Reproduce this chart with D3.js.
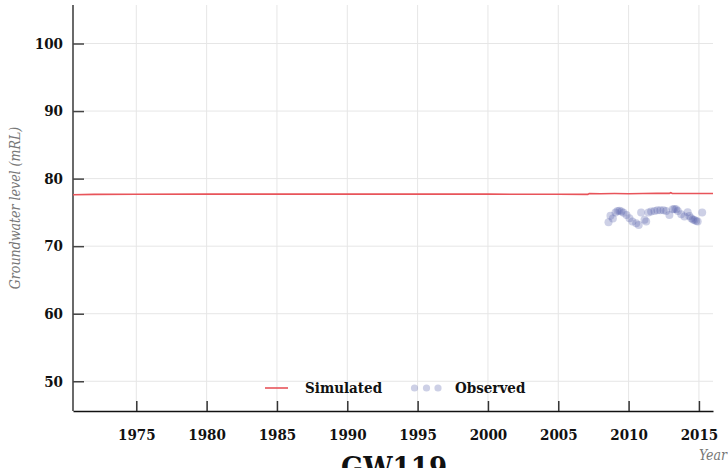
<!DOCTYPE html>
<html><head><meta charset="utf-8">
<script src="https://cdn.jsdelivr.net/npm/d3@7"></script>
<style>
html,body{margin:0;padding:0;background:#fff;}
svg{display:block;}
text{font-family:"DejaVu Serif",serif;}
</style></head>
<body><svg id="c" width="728" height="468"></svg>
<script>
const title = "GW119";
const yLabel = "Groundwater level (mRL)";
const xLabel = "Year";
const xTicks = [1975,1980,1985,1990,1995,2000,2005,2010,2015];
const yTicks = [50,60,70,80,90,100];
const xDomain = [1970.5, 2016.0];
const yDomain = [45.6, 105.7];

const simYears  = [1970.5,1972,1975,1980,1985,1990,1995,2000,2005,2007.1,2007.2,2008,2009,2010,2011,2012,2012.9,2013.0,2013.1,2014,2015,2016];
const simValues = [77.62,77.66,77.68,77.7,77.7,77.7,77.7,77.7,77.68,77.67,77.78,77.77,77.79,77.77,77.79,77.81,77.81,77.93,77.8,77.79,77.79,77.79];

const obsYears  = [2008.57,2008.71,2008.88,2009.07,2009.21,2009.35,2009.49,2009.64,2009.85,2010.06,2010.27,2010.54,2010.72,2010.89,2011.13,2011.25,2011.41,2011.60,2011.84,2012.05,2012.26,2012.48,2012.67,2012.90,2013.14,2013.26,2013.38,2013.50,2013.74,2013.97,2014.20,2014.32,2014.45,2014.57,2014.68,2014.80,2014.91,2015.23];
const obsValues = [73.55,74.5,74.1,75.0,75.2,75.25,75.15,74.95,74.6,74.14,73.64,73.4,73.15,75.0,73.9,73.64,75.0,75.15,75.2,75.3,75.33,75.3,75.2,74.6,75.47,75.5,75.45,75.2,74.73,74.38,75.03,74.48,74.14,73.96,73.89,73.74,73.64,75.0];

const legendLabels = ["Simulated","Observed"];

const svg = d3.select("#c");
const L = 73, R = 713, T = 5, B = 411;
const x = d3.scaleLinear().domain(xDomain).range([L, R]);
const y = d3.scaleLinear().domain(yDomain).range([B, T]);

// grid
svg.append("g").selectAll("line").data(xTicks).join("line")
  .attr("x1", d => x(d)).attr("x2", d => x(d)).attr("y1", T).attr("y2", B)
  .attr("stroke", "#e6e6e6").attr("stroke-width", 1);
svg.append("g").selectAll("line").data(yTicks).join("line")
  .attr("x1", L).attr("x2", R).attr("y1", d => y(d)).attr("y2", d => y(d))
  .attr("stroke", "#e6e6e6").attr("stroke-width", 1);

// axes
const xAxis = d3.axisBottom(x).tickValues(xTicks).tickFormat(d3.format("d")).tickSizeInner(-10).tickSizeOuter(0).tickPadding(18);
const gx = svg.append("g").attr("transform", `translate(0,${B})`).call(xAxis);
gx.select(".domain").attr("stroke", "#111").attr("stroke-width", 1.6);
gx.selectAll(".tick line").attr("stroke", "#333").attr("stroke-width", 1.5);
gx.selectAll(".tick text").attr("fill", "#111").attr("font-size", 15).attr("font-weight", "bold")
  .attr("font-family", "DejaVu Serif").attr("font-stretch", "condensed");

const yAxis = d3.axisLeft(y).tickValues(yTicks).tickSizeInner(-11).tickSizeOuter(0).tickPadding(10);
const gy = svg.append("g").attr("transform", `translate(${L},0)`).call(yAxis);
gy.select(".domain").attr("stroke", "#444").attr("stroke-width", 1.6).attr("d", `M0,${T}V${B}`);
gy.selectAll(".tick line").attr("stroke", "#444").attr("stroke-width", 1.5);
gy.selectAll(".tick text").attr("fill", "#111").attr("font-size", 15).attr("font-weight", "bold")
  .attr("font-family", "DejaVu Serif").attr("font-stretch", "condensed");

// simulated line
const line = d3.line().x((d,i) => x(simYears[i])).y(d => y(d));
svg.append("path").datum(simValues).attr("d", line)
  .attr("fill", "none").attr("stroke", "#e8545a").attr("stroke-width", 1.6);

// observed points
svg.append("g").selectAll("circle").data(obsValues).join("circle")
  .attr("cx", (d,i) => x(obsYears[i])).attr("cy", d => y(d)).attr("r", 4)
  .attr("fill", "#4a56a6").attr("fill-opacity", 0.28);

// legend
const lg = svg.append("g");
lg.append("line").attr("x1", 265).attr("x2", 288).attr("y1", 388).attr("y2", 388)
  .attr("stroke", "#e8545a").attr("stroke-width", 1.6);
lg.append("text").attr("x", 305).attr("y", 393).text(legendLabels[0])
  .attr("font-size", 15).attr("font-weight", "bold").attr("font-stretch", "condensed").attr("fill", "#111");
[414.5, 426.5, 438].forEach(cx => lg.append("circle").attr("cx", cx).attr("cy", 388).attr("r", 3.6)
  .attr("fill", "#4a56a6").attr("fill-opacity", 0.28));
lg.append("text").attr("x", 455).attr("y", 393).text(legendLabels[1])
  .attr("font-size", 15).attr("font-weight", "bold").attr("font-stretch", "condensed").attr("fill", "#111");

// axis labels
svg.append("text").attr("transform", `translate(20,208) rotate(-90)`).attr("text-anchor", "middle")
  .attr("font-style", "italic").attr("font-size", 14).attr("fill", "#777").attr("font-stretch", "condensed").text(yLabel);
svg.append("text").attr("x", 699).attr("y", 460)
  .attr("font-style", "italic").attr("font-size", 14).attr("fill", "#777").attr("font-stretch", "condensed").text(xLabel);

// title
svg.append("text").attr("x", 394).attr("y", 478).attr("text-anchor", "middle")
  .attr("font-size", 29).attr("font-weight", "bold").attr("fill", "#111").attr("font-stretch", "condensed").text(title);
</script></body></html>
